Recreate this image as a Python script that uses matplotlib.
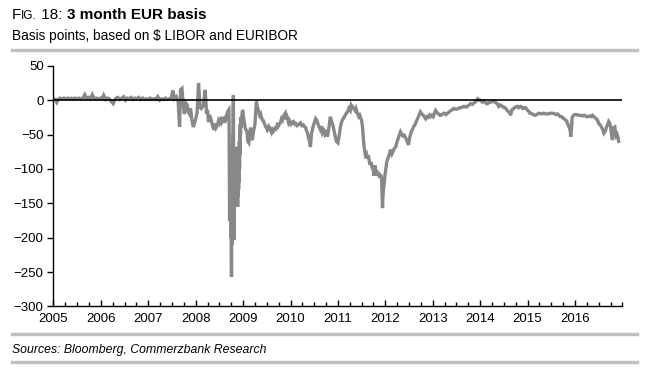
import matplotlib
matplotlib.use('Agg')
import matplotlib.pyplot as plt
from matplotlib.ticker import MultipleLocator

plt.rcParams['font.family'] = ['Liberation Sans', 'DejaVu Sans']

# 3M EUR/USD cross currency basis, bp (decimal years)
dates = [
    2005.00, 2005.04, 2005.07, 2005.10, 2005.14, 2005.18, 2005.22, 2005.26, 2005.30, 2005.34,
    2005.38, 2005.42, 2005.46, 2005.50, 2005.54, 2005.58, 2005.62, 2005.66, 2005.70, 2005.74,
    2005.78, 2005.82, 2005.86, 2005.90, 2005.95,
    2006.00, 2006.03, 2006.06, 2006.10, 2006.14, 2006.18, 2006.22, 2006.26, 2006.29, 2006.32,
    2006.36, 2006.40, 2006.44, 2006.48, 2006.52, 2006.56, 2006.60, 2006.64, 2006.68, 2006.72,
    2006.76, 2006.80, 2006.84, 2006.88, 2006.92, 2006.96,
    2007.00, 2007.04, 2007.08, 2007.12, 2007.16, 2007.20, 2007.24, 2007.28, 2007.32, 2007.36,
    2007.40, 2007.44, 2007.48, 2007.52, 2007.55, 2007.59, 2007.63, 2007.66, 2007.68, 2007.71,
    2007.74, 2007.76, 2007.78, 2007.80, 2007.82, 2007.84, 2007.86, 2007.89, 2007.92, 2007.95,
    2007.99,
    2008.03, 2008.06, 2008.09, 2008.12, 2008.16, 2008.20, 2008.23, 2008.25, 2008.27, 2008.29,
    2008.31, 2008.33, 2008.35, 2008.37, 2008.39, 2008.41, 2008.43, 2008.46, 2008.48, 2008.50,
    2008.52, 2008.54, 2008.56, 2008.58, 2008.60, 2008.62, 2008.64, 2008.66, 2008.68,
    2008.700, 2008.705, 2008.710, 2008.715, 2008.720, 2008.725, 2008.730, 2008.735, 2008.740,
    2008.745, 2008.750, 2008.755, 2008.760, 2008.765, 2008.770, 2008.775, 2008.780, 2008.785,
    2008.790, 2008.795, 2008.800, 2008.805, 2008.810, 2008.815, 2008.820, 2008.825, 2008.830,
    2008.835, 2008.840, 2008.845, 2008.850, 2008.855, 2008.860, 2008.865, 2008.870, 2008.875,
    2008.880, 2008.885, 2008.890, 2008.895, 2008.900, 2008.905, 2008.910, 2008.915, 2008.920,
    2008.925, 2008.930, 2008.935, 2008.940, 2008.945, 2008.950, 2008.960, 2008.975, 2008.99,
    2009.02, 2009.05, 2009.08, 2009.10, 2009.12, 2009.14, 2009.16, 2009.18, 2009.20, 2009.22,
    2009.25, 2009.28, 2009.30, 2009.32, 2009.35, 2009.37, 2009.40, 2009.42, 2009.45, 2009.47,
    2009.49, 2009.51, 2009.54, 2009.56, 2009.58, 2009.60, 2009.62, 2009.64, 2009.67, 2009.69,
    2009.72, 2009.74, 2009.77, 2009.79, 2009.81, 2009.83, 2009.86, 2009.89, 2009.91, 2009.93,
    2009.96, 2009.98,
    2010.01, 2010.04, 2010.06, 2010.09, 2010.11, 2010.14, 2010.16, 2010.19, 2010.21, 2010.24,
    2010.27, 2010.30, 2010.32, 2010.34, 2010.36, 2010.38, 2010.40, 2010.42, 2010.44, 2010.47,
    2010.50, 2010.53, 2010.56, 2010.58, 2010.61, 2010.63, 2010.66, 2010.68, 2010.71, 2010.73,
    2010.76, 2010.78, 2010.81, 2010.84, 2010.86, 2010.89, 2010.92, 2010.95, 2010.97,
    2011.00, 2011.03, 2011.05, 2011.08, 2011.10, 2011.13, 2011.15, 2011.18, 2011.21, 2011.23,
    2011.26, 2011.28, 2011.31, 2011.33, 2011.36, 2011.38, 2011.41, 2011.44, 2011.46, 2011.48,
    2011.50, 2011.52, 2011.54, 2011.56, 2011.58, 2011.60, 2011.62, 2011.64, 2011.66, 2011.68,
    2011.70, 2011.72, 2011.74, 2011.76, 2011.78, 2011.80, 2011.82, 2011.84, 2011.86, 2011.88,
    2011.90, 2011.92, 2011.93, 2011.94, 2011.95, 2011.96, 2011.98, 2011.99,
    2012.01, 2012.03, 2012.05, 2012.08, 2012.11, 2012.14, 2012.16, 2012.19, 2012.22, 2012.24,
    2012.26, 2012.29, 2012.32, 2012.35, 2012.37, 2012.40, 2012.43, 2012.46, 2012.49, 2012.51,
    2012.53, 2012.55, 2012.57, 2012.60, 2012.63, 2012.66, 2012.68, 2012.71, 2012.74, 2012.77,
    2012.80, 2012.83, 2012.85, 2012.88, 2012.90, 2012.93, 2012.95, 2012.98,
    2013.01, 2013.04, 2013.06, 2013.09, 2013.12, 2013.15, 2013.17, 2013.21, 2013.24, 2013.28,
    2013.31, 2013.35, 2013.38, 2013.41, 2013.44, 2013.48, 2013.52, 2013.56, 2013.59, 2013.63,
    2013.66, 2013.70, 2013.73, 2013.77, 2013.80, 2013.84, 2013.87, 2013.91, 2013.95, 2013.98,
    2014.00, 2014.03, 2014.05, 2014.08, 2014.10, 2014.13, 2014.16, 2014.19, 2014.22, 2014.25,
    2014.28, 2014.31, 2014.34, 2014.37, 2014.39, 2014.42, 2014.45, 2014.48, 2014.50, 2014.54,
    2014.57, 2014.60, 2014.62, 2014.64, 2014.67, 2014.71, 2014.74, 2014.78, 2014.81, 2014.85,
    2014.88, 2014.90, 2014.93, 2014.96, 2014.99,
    2015.02, 2015.05, 2015.07, 2015.10, 2015.12, 2015.15, 2015.17, 2015.21, 2015.25, 2015.29,
    2015.34, 2015.38, 2015.43, 2015.48, 2015.53, 2015.57, 2015.60, 2015.63, 2015.66, 2015.69,
    2015.71, 2015.74, 2015.76, 2015.79, 2015.82, 2015.85, 2015.88, 2015.90, 2015.91, 2015.93,
    2015.94, 2015.97, 2015.99,
    2016.04, 2016.08, 2016.12, 2016.16, 2016.20, 2016.24, 2016.27, 2016.31, 2016.34, 2016.37,
    2016.40, 2016.43, 2016.45, 2016.48, 2016.50, 2016.53, 2016.55, 2016.58, 2016.61, 2016.64,
    2016.66, 2016.69, 2016.71, 2016.73, 2016.75, 2016.77, 2016.79, 2016.81, 2016.82, 2016.84,
    2016.85, 2016.87, 2016.89, 2016.91, 2016.92,
]
basis = [
    2, 1, -3, 1, 3, 2, 3, 2, 3, 2,
    3, 2, 3, 2, 3, 2, 3, 8, 2, 4,
    2, 8, 2, 3, 2,
    3, 2, 7, 1, 3, 2, -2, -5, 0, 3,
    4, 1, 3, 5, 0, 3, 2, 4, 1, 3,
    2, 4, 1, 3, 1, 2,
    1, 3, 1, 2, 1, 5, 0, 2, 1, 3,
    1, 2, 3, 14, 2, 5, -2, -39, 15, 17,
    -8, -20, -15, -5, -7, -16, -19, -12, -29, -39,
    -30,
    -18, 25, -10, -12, -8, 15, -20, -14, -32, -22,
    -25, -30, -36, -40, -43, -34, -40, -36, -30, -33,
    -29, -32, -27, -28, -33, -23, -26, -20, -16,
    -14, -40, -120, -175, -100, -170, -80, -160, -200, -120,
    -180, -257, -90, -210, -70, -160, -50, -120, -20, 7,
    -90, -203, -100, -160, -70, -145, -75, -140, -68, -135,
    -70, -150, -72, -140, -68, -150, -70, -155, -75, -140,
    -68, -130, -70, -120, -60, -100, -45, -80, -35, -50,
    -25, -40, -22, -14,
    -30, -42, -45, -60, -62, -48, -40, -58, -55, -45,
    -35, -2, -10, -14, -22, -20, -28, -29, -34, -38,
    -40, -43, -38, -40, -44, -47, -43, -45, -41, -42,
    -36, -38, -34, -32, -27, -29, -22, -19, -28, -25,
    -33, -30,
    -35, -32, -31, -35, -34, -37, -36, -34, -33, -37,
    -36, -39, -40, -45, -48, -55, -60, -68, -50, -40,
    -33, -27, -30, -35, -40, -43, -38, -48, -45, -50,
    -47, -53, -40, -24, -30, -35, -45, -55, -60,
    -62, -50, -40, -31, -28, -25, -22, -19, -16, -12,
    -15, -7, -10, -12, -15, -12, -19, -24, -22, -26,
    -29, -40, -60, -72, -80, -78, -85, -80, -88, -94,
    -90, -98, -100, -110, -95, -105, -102, -110, -105, -113,
    -108, -113, -135, -157, -140, -130, -119, -110,
    -100, -90, -85, -80, -72, -78, -75, -70, -68, -62,
    -58, -52, -46, -50, -52, -51, -55, -60, -65, -55,
    -50, -45, -43, -38, -35, -30, -27, -22, -17, -20,
    -22, -25, -27, -24, -25, -22, -24, -22,
    -24, -18, -15, -18, -20, -22, -22, -20, -19, -21,
    -19, -17, -15, -14, -12, -13, -13, -11, -11, -10,
    -9, -10, -9, -7, -5, -6, -4, -2, 2, 0,
    0, -2, -3, -1, -2, -5, -5, -3, -3, -2,
    -1, -3, -4, -6, -9, -7, -8, -10, -10, -12,
    -15, -17, -18, -22, -14, -12, -10, -9, -11, -9,
    -10, -12, -11, -11, -14,
    -16, -19, -19, -20, -21, -22, -22, -20, -19, -20,
    -19, -20, -20, -19, -19, -20, -21, -20, -22, -24,
    -24, -25, -27, -28, -30, -35, -40, -45, -53, -38,
    -25, -22, -21,
    -21, -22, -22, -23, -22, -24, -24, -23, -24, -22,
    -24, -26, -27, -30, -34, -36, -38, -42, -48, -45,
    -40, -35, -31, -33, -38, -50, -58, -45, -40, -39,
    -44, -52, -50, -55, -60,
]

years = list(range(2005, 2017))
yticks = [50, 0, -50, -100, -150, -200, -250, -300]

fig = plt.figure(figsize=(6.48, 3.76), dpi=100)
ax = fig.add_axes([0.0825, 0.185, 0.878, 0.640])

ax.plot(dates, basis, color='#888888', lw=2.4, solid_joinstyle='miter', zorder=2)
ax.axhline(0, color='black', lw=1.2, zorder=3)

ax.set_xlim(2005, 2017)
ax.set_ylim(-300, 50)
ax.set_yticks(yticks)
ax.set_xticks(years)
ax.set_xticklabels([str(y) for y in years])
ax.xaxis.set_minor_locator(MultipleLocator(0.25))

for side in ['top', 'right']:
    ax.spines[side].set_visible(False)
for side in ['left', 'bottom']:
    ax.spines[side].set_linewidth(1.0)
    ax.spines[side].set_color('black')

ax.tick_params(axis='y', direction='out', length=4, width=1, labelsize=9.5, pad=3)
ax.tick_params(axis='x', which='major', direction='in', length=4, width=1, labelsize=9.5, pad=5)
ax.tick_params(axis='x', which='minor', direction='in', length=3, width=1)

# header: small caps "FIG." then bold title
fig.canvas.draw()
r = fig.canvas.get_renderer()
x = 12 / 648
ytit = 1 - 19 / 376
parts = [('F', 11, 'normal'), ('IG.', 8.5, 'normal'), (' 18: ', 11, 'normal'),
         ('3 month EUR basis', 11, 'bold')]
for s, fs, w in parts:
    t = fig.text(x, ytit, s, fontsize=fs, fontweight=w, va='baseline', ha='left')
    bb = t.get_window_extent(renderer=r)
    x += bb.width / 648
fig.text(12 / 648, 1 - 40 / 376, 'Basis points, based on $ LIBOR and EURIBOR',
         fontsize=9.8, va='baseline', ha='left')

for yl in [50, 334, 362]:
    fig.add_artist(plt.Line2D([12 / 648, 637 / 648], [1 - yl / 376, 1 - yl / 376],
                              color='#c0c0c0', lw=2.5, transform=fig.transFigure))

fig.text(12 / 648, 1 - 353 / 376, 'Sources: Bloomberg, Commerzbank Research',
         fontsize=8.8, style='italic', va='baseline', ha='left')

fig.savefig('out.png', dpi=100)
